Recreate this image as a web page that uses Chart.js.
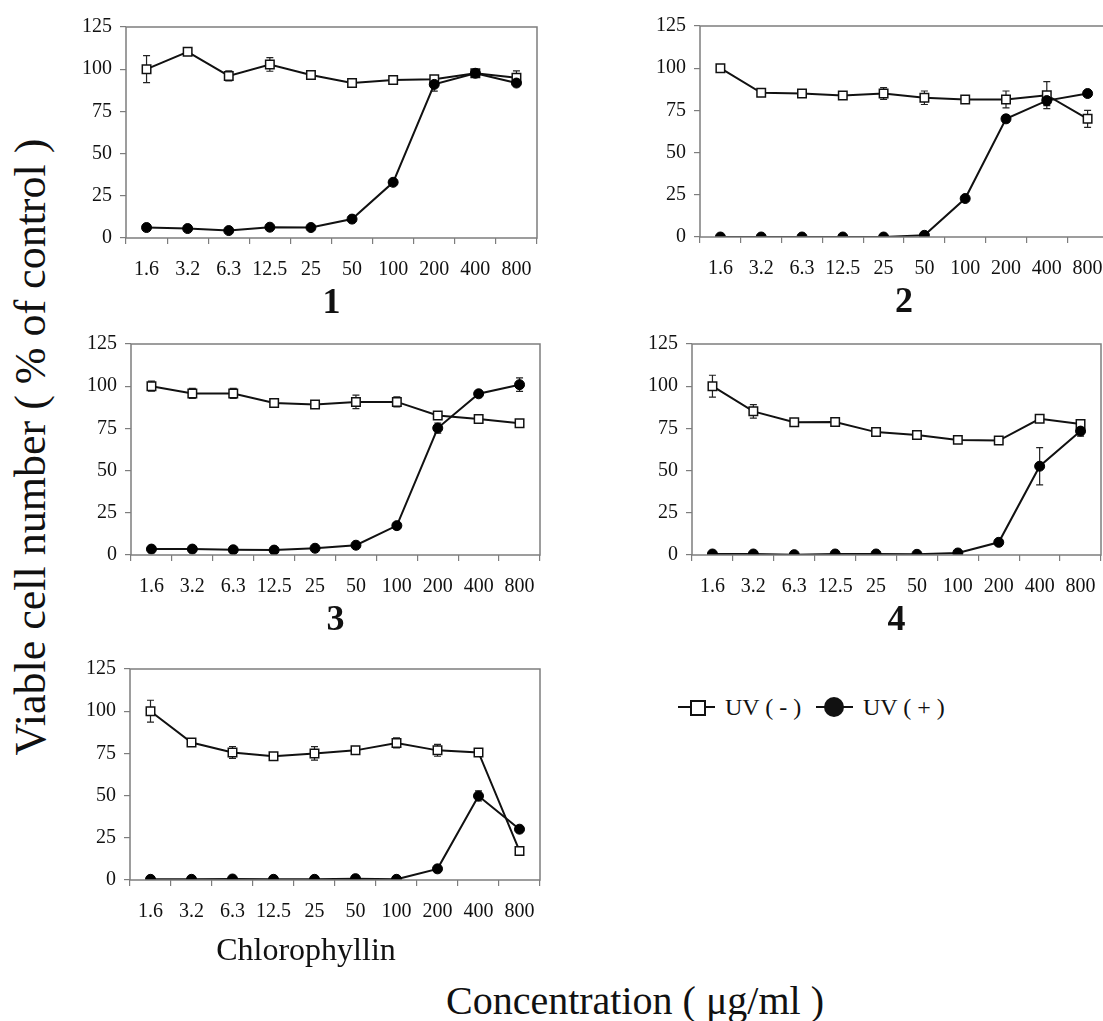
<!DOCTYPE html>
<html>
<head>
<meta charset="utf-8">
<script src="https://cdn.jsdelivr.net/npm/chart.js@4.4.0/dist/chart.umd.min.js"></script>
<style>
html,body{margin:0;padding:0;background:#fff;width:1103px;height:1021px;overflow:hidden;position:relative;font-family:'Liberation Serif','Times New Roman',serif;color:#111}
canvas{position:absolute}
.txt{position:absolute;white-space:nowrap;line-height:1}
.lg-line{position:absolute;height:2px;background:#111}
.lg-sq{position:absolute;width:12px;height:12px;border:2px solid #111;background:#fff}
.lg-dot{position:absolute;width:20px;height:20px;border-radius:50%;background:#111}
</style>
</head>
<body>
<canvas id="c1"></canvas>
<canvas id="c2"></canvas>
<canvas id="c3"></canvas>
<canvas id="c4"></canvas>
<canvas id="c5"></canvas>

<div class="txt" style="left:31px;top:447px;font-size:44px;transform:translate(-50%,-50%) rotate(-90deg);">Viable cell number ( % of control )</div>
<div class="txt" style="left:306px;top:933px;font-size:32px;transform:translateX(-50%);">Chlorophyllin</div>
<div class="txt" style="left:635px;top:981px;font-size:40px;transform:translateX(-50%);">Concentration ( μg/ml )</div>

<div class="lg-line" style="left:678px;top:706px;width:37px;"></div>
<div class="lg-sq" style="left:690px;top:700px;"></div>
<div class="txt" style="left:725px;top:695px;font-size:24px;">UV ( - )</div>
<div class="lg-line" style="left:816px;top:706px;width:37px;"></div>
<div class="lg-dot" style="left:824px;top:697px;"></div>
<div class="txt" style="left:863px;top:695px;font-size:24px;">UV ( + )</div>

<script>
// ---------------- data ----------------
const categories = ['1.6', '3.2', '6.3', '12.5', '25', '50', '100', '200', '400', '800'];
const yTickStep = 25;
const yMax = 125;
const seriesNames = ['UV ( - )', 'UV ( + )'];
const panelLabels = ['1', '2', '3', '4', ''];

const p1UvMinus    = [100, 110.3, 96, 102.8, 96.6, 91.8, 93.6, 94, 97.6, 95];
const p1UvMinusErr = [8, 1, 3, 4, 1, 2, 2, 1, 1, 4];
const p1UvPlus     = [6.2, 5.6, 4.4, 6.4, 6.2, 11.2, 33, 91, 97.6, 91.8];
const p1UvPlusErr  = [0, 0, 0, 0, 0, 0, 0, 4, 0, 0];

const p2UvMinus    = [100, 85.4, 85, 83.8, 85, 82.5, 81.5, 81.5, 84, 70];
const p2UvMinusErr = [2, 0, 0, 2, 3.5, 4, 0, 5, 8, 5];
const p2UvPlus     = [0, 0, 0, 0, 0, 1, 22.8, 70, 80.8, 85];
const p2UvPlusErr  = [0, 0, 0, 0, 0, 0, 0, 2, 3, 0];

const p3UvMinus    = [100, 95.7, 95.7, 90, 89.1, 90.7, 90.7, 82.6, 80.6, 78.1];
const p3UvMinusErr = [3, 3, 3, 0, 0, 4, 3, 0, 0, 0];
const p3UvPlus     = [3.5, 3.5, 3.1, 2.9, 4, 5.8, 17.4, 75.2, 95.5, 100.9];
const p3UvPlusErr  = [0, 0, 0, 0, 0, 0, 0, 3, 0, 4];

const p4UvMinus    = [100, 85.1, 78.6, 78.8, 72.8, 71.1, 68.2, 67.8, 80.7, 77.6];
const p4UvMinusErr = [6.5, 4, 0, 0, 0, 0, 0, 0, 2, 0];
const p4UvPlus     = [0.6, 0.6, 0.2, 0.6, 0.6, 0.4, 1.2, 7.5, 52.6, 73.4];
const p4UvPlusErr  = [0, 0, 0, 0, 0, 0, 0, 0, 11, 3];

const p5UvMinus    = [100, 81.4, 75.6, 73.3, 75, 76.8, 81.2, 76.8, 75.6, 17.2];
const p5UvMinusErr = [6.5, 2, 3.5, 0, 4, 2, 3, 3.5, 0, 0];
const p5UvPlus     = [0.4, 0.4, 0.6, 0.4, 0.4, 0.8, 0.4, 6.6, 49.8, 30.1];
const p5UvPlusErr  = [0, 0, 0, 0, 0, 0, 0, 0, 3, 0];

// ---------------- layout (plot areas in page pixels) ----------------
const areas = [
  {l: 126, t: 22,  r: 537,  b: 238},
  {l: 700, t: 21,  r: 1108, b: 237},
  {l: 131, t: 339, r: 540,  b: 555},
  {l: 692, t: 339, r: 1101, b: 555},
  {l: 130, t: 664, r: 540,  b: 880}
];
const panels = [
  [p1UvMinus, p1UvMinusErr, p1UvPlus, p1UvPlusErr],
  [p2UvMinus, p2UvMinusErr, p2UvPlus, p2UvPlusErr],
  [p3UvMinus, p3UvMinusErr, p3UvPlus, p3UvPlusErr],
  [p4UvMinus, p4UvMinusErr, p4UvPlus, p4UvPlusErr],
  [p5UvMinus, p5UvMinusErr, p5UvPlus, p5UvPlusErr]
];

const Y_AXIS_W = 70, PAD_TOP = 15, PAD_RIGHT = 10, X_AXIS_H = 95;
const FONT = "'Liberation Serif', 'Times New Roman', serif";
const FRAME = '#7d7d7d';

const errorBarPlugin = {
  id: 'errorBars',
  beforeDatasetsDraw(chart) {
    const ctx = chart.ctx, ys = chart.scales.y;
    ctx.save();
    ctx.strokeStyle = '#222';
    ctx.lineWidth = 1.2;
    chart.data.datasets.forEach((ds, di) => {
      const meta = chart.getDatasetMeta(di);
      (ds.errors || []).forEach((e, i) => {
        if (!e) return;
        const pt = meta.data[i];
        const v = ds.data[i];
        const y1 = ys.getPixelForValue(v + e), y2 = ys.getPixelForValue(v - e);
        ctx.beginPath();
        ctx.moveTo(pt.x, y1); ctx.lineTo(pt.x, y2);
        ctx.moveTo(pt.x - 3.5, y1); ctx.lineTo(pt.x + 3.5, y1);
        ctx.moveTo(pt.x - 3.5, y2); ctx.lineTo(pt.x + 3.5, y2);
        ctx.stroke();
      });
    });
    ctx.restore();
  }
};

const framePlugin = {
  id: 'frame',
  afterDraw(chart) {
    const a = chart.chartArea, ctx = chart.ctx;
    ctx.save();
    ctx.strokeStyle = FRAME;
    ctx.lineWidth = 1.5;
    ctx.strokeRect(a.left, a.top, a.right - a.left, a.bottom - a.top);
    ctx.restore();
  }
};

panels.forEach((p, idx) => {
  const a = areas[idx];
  const cv = document.getElementById('c' + (idx + 1));
  const left = a.l - Y_AXIS_W, top = a.t - PAD_TOP;
  const w = a.r + PAD_RIGHT - left, h = (a.b - a.t) + PAD_TOP + X_AXIS_H;
  cv.style.left = left + 'px'; cv.style.top = top + 'px';
  cv.width = w; cv.height = h;
  new Chart(cv, {
    type: 'line',
    data: {
      labels: categories,
      datasets: [
        {
          label: seriesNames[0], data: p[0], errors: p[1], order: 1,
          borderColor: '#111', borderWidth: 2, tension: 0,
          pointStyle: 'rect', pointRadius: 6, pointBorderWidth: 1.5,
          pointBackgroundColor: '#fff', pointBorderColor: '#111'
        },
        {
          label: seriesNames[1], data: p[2], errors: p[3], order: 0,
          borderColor: '#111', borderWidth: 2, tension: 0,
          pointStyle: 'circle', pointRadius: 5, pointBorderWidth: 1,
          pointBackgroundColor: '#000', pointBorderColor: '#000'
        }
      ]
    },
    options: {
      responsive: false, maintainAspectRatio: false, animation: false,
      devicePixelRatio: 1,
      layout: {padding: {top: PAD_TOP, right: PAD_RIGHT, left: 0, bottom: 0}},
      plugins: {legend: {display: false}, tooltip: {enabled: false}},
      scales: {
        x: {
          type: 'category', offset: true,
          border: {display: false},
          grid: {offset: true, drawOnChartArea: false, drawTicks: true, tickLength: 6, color: FRAME, lineWidth: 1.2},
          ticks: {color: '#111', font: {family: FONT, size: 20}, padding: 14, maxRotation: 0, autoSkip: false},
          title: {display: panelLabels[idx] !== '', text: panelLabels[idx], color: '#111',
                  font: {family: FONT, size: 36, weight: 'bold'}, padding: {top: 0, bottom: 8}},
          afterFit(s) { s.height = X_AXIS_H; }
        },
        y: {
          min: 0, max: yMax,
          border: {display: false},
          grid: {drawOnChartArea: false, drawTicks: true, tickLength: 6, color: FRAME, lineWidth: 1.2},
          ticks: {stepSize: yTickStep, color: '#111', font: {family: FONT, size: 20}, padding: 8},
          afterFit(s) { s.width = Y_AXIS_W; }
        }
      }
    },
    plugins: [errorBarPlugin, framePlugin]
  });
});
</script>
</body>
</html>
